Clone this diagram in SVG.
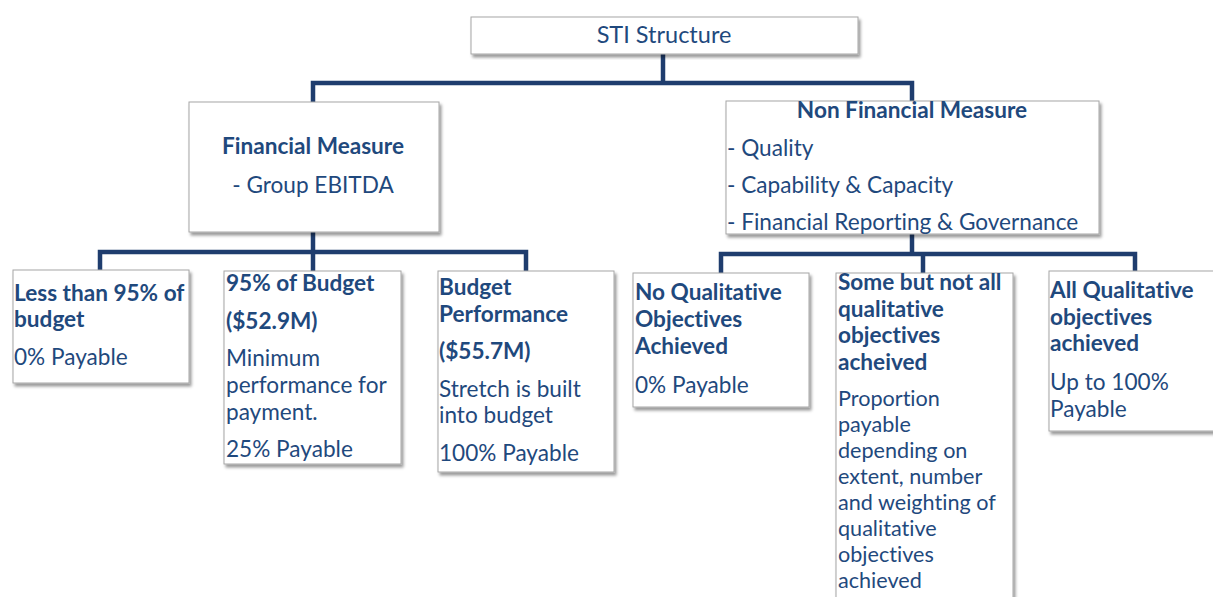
<svg xmlns="http://www.w3.org/2000/svg" width="1213" height="597" viewBox="0 0 1213 597">
<defs>
<filter id="sh" x="-5%" y="-5%" width="115%" height="120%"><feDropShadow dx="2" dy="3" stdDeviation="1.5" flood-color="#000" flood-opacity="0.4"/></filter>
</defs>
<style>
.box{fill:#fff;stroke:#a6a6a6;stroke-width:1;filter:url(#sh)}
.t{font-family:Lato,"Liberation Sans",sans-serif;font-size:22.6px;fill:#1f497d;font-variant-ligatures:none}
.b{font-weight:bold}
.m{text-anchor:middle}
.s{font-size:21.6px}
.c{fill:none;stroke:#1f3d6e;stroke-width:4.5;stroke-linejoin:miter}
</style>
<rect width="1213" height="597" fill="#fff"/>
<g id="connectors">
<path class="c" d="M663,54 V83"/>
<path class="c" d="M313,102 V83 H912 V101"/>
<path class="c" d="M313,232 V252"/>
<path class="c" d="M100,270 V252 H526 V271"/>
<path class="c" d="M313,252 V271"/>
<path class="c" d="M912,234 V254"/>
<path class="c" d="M721,273 V254 H1135 V271"/>
<path class="c" d="M923,254 V273"/>
</g>
<g id="sti">
<rect class="box" x="471" y="17" width="387" height="37"/>
<text class="t m" x="664" y="43" style="font-size:23.5px">STI Structure</text>
</g>
<g id="financial">
<rect class="box" x="189" y="102" width="250" height="130"/>
<text class="t b m" x="313" y="154">Financial Measure</text>
<text class="t m" x="313" y="193">- Group EBITDA</text>
</g>
<g id="nonfinancial">
<rect class="box" x="726" y="101" width="373" height="133"/>
<text class="t b m" x="912" y="118">Non Financial Measure</text>
<text class="t" x="727" y="156">- Quality</text>
<text class="t" x="727" y="193">- Capability &amp; Capacity</text>
<text class="t" x="727" y="230">- Financial Reporting &amp; Governance</text>
</g>
<g id="less95">
<rect class="box" x="13" y="270" width="176" height="113"/>
<text class="t b" x="14" y="301">Less than 95% of</text>
<text class="t b" x="14" y="327">budget</text>
<text class="t" x="14" y="365">0% Payable</text>
</g>
<g id="b95">
<rect class="box" x="224" y="271" width="177" height="193"/>
<text class="t b" x="226" y="291">95% of Budget</text>
<text class="t b" x="226" y="329">($52.9M)</text>
<text class="t" x="226" y="366">Minimum</text>
<text class="t" x="226" y="393">performance for</text>
<text class="t" x="226" y="420">payment.</text>
<text class="t" x="226" y="457">25% Payable</text>
</g>
<g id="budgetperf">
<rect class="box" x="438" y="271" width="176" height="201"/>
<text class="t b" x="439" y="295">Budget</text>
<text class="t b" x="439" y="322">Performance</text>
<text class="t b" x="439" y="359">($55.7M)</text>
<text class="t" x="439" y="397">Stretch is built</text>
<text class="t" x="439" y="423">into budget</text>
<text class="t" x="439" y="461">100% Payable</text>
</g>
<g id="noqual">
<rect class="box" x="633" y="273" width="176" height="134"/>
<text class="t b" x="635" y="300">No Qualitative</text>
<text class="t b" x="635" y="327">Objectives</text>
<text class="t b" x="635" y="354">Achieved</text>
<text class="t" x="635" y="393">0% Payable</text>
</g>
<g id="somequal">
<rect class="box" x="836" y="273" width="177" height="340"/>
<text class="t b" x="838" y="290">Some but not all</text>
<text class="t b" x="838" y="317">qualitative</text>
<text class="t b" x="838" y="343">objectives</text>
<text class="t b" x="838" y="370">acheived</text>
<text class="t s" x="838" y="406">Proportion</text>
<text class="t s" x="838" y="432">payable</text>
<text class="t s" x="838" y="458">depending on</text>
<text class="t s" x="838" y="484">extent, number</text>
<text class="t s" x="838" y="510">and weighting of</text>
<text class="t s" x="838" y="536">qualitative</text>
<text class="t s" x="838" y="562">objectives</text>
<text class="t s" x="838" y="588">achieved</text>
</g>
<g id="allqual">
<rect class="box" x="1049" y="271" width="180" height="160"/>
<text class="t b" x="1050" y="298">All Qualitative</text>
<text class="t b" x="1050" y="325">objectives</text>
<text class="t b" x="1050" y="351">achieved</text>
<text class="t" x="1050" y="390">Up to 100%</text>
<text class="t" x="1050" y="417">Payable</text>
</g>
</svg>
